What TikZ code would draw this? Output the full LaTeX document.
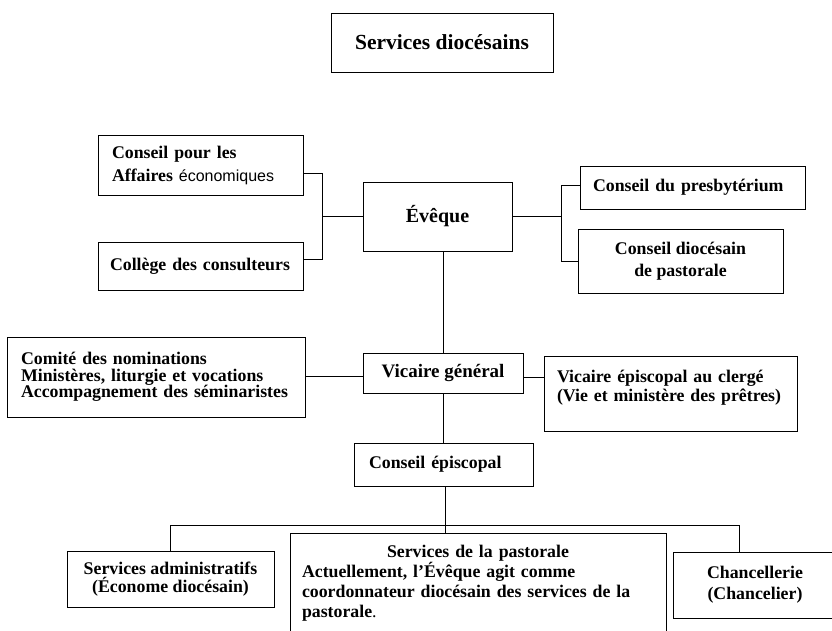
\documentclass[tikz,border=0pt]{standalone}
\usepackage{fontspec}
\setmainfont{Liberation Serif}
\newfontfamily\arialfont{Liberation Sans}
\usetikzlibrary{positioning,calc}

\begin{document}
\begin{tikzpicture}[x=1pt, y=-1pt,
  box/.style={rectangle, draw, line width=0.9pt, inner sep=0pt, font=\bfseries\fontsize{17.8}{19}\selectfont},
  line/.style={line width=0.9pt}]
  \useasboundingbox (0,0) rectangle (832,631);
  % top level
  \node[box, minimum width=222pt, minimum height=59pt, font=\bfseries\fontsize{21.5}{24}\selectfont] (titre) at (442,42.5) {Services diocésains};
  \node[box, minimum width=149pt, minimum height=69pt, font=\bfseries\fontsize{20}{22}\selectfont] (eveque) at (437.5,216.5) {Évêque};
  \node[box, minimum width=205pt, minimum height=60pt, inner xsep=14pt, text width=177pt, align=left, font=\bfseries\fontsize{17.8}{23}\selectfont] (affaires) at (200.5,165) {Conseil pour les\\ Affaires {\arialfont\mdseries\fontsize{16}{23}\selectfont économiques}};
  \node[box, minimum width=205pt, minimum height=48pt, inner xsep=12pt, text width=181pt, align=left] (college) at (200.5,266) {Collège des consulteurs};
  \node[box, minimum width=225pt, minimum height=43pt, inner xsep=13pt, text width=199pt, align=left] (presby) at (692.5,187.5) {Conseil du presbytérium};
  \node[box, minimum width=205pt, minimum height=64pt, align=center, font=\bfseries\fontsize{17.8}{22}\selectfont] (pastcons) at (680.5,261) {Conseil diocésain\\ de pastorale};
  % vicaires
  \node[box, minimum width=160pt, minimum height=40pt, font=\bfseries\fontsize{19}{21}\selectfont] (vicgen) at (443,373) {Vicaire général};
  \node[box, minimum width=298pt, minimum height=80pt, inner xsep=14pt, text width=270pt, align=left, font=\bfseries\fontsize{17.8}{16.5}\selectfont] (comite) at (156,377) {Comité des nominations\\ Ministères, liturgie et vocations\\ Accompagnement des séminaristes};
  \node[box, minimum width=253pt, minimum height=75pt, inner xsep=13pt, text width=227pt, align=left] (vicep) at (670.5,393.5) {\mbox{Vicaire épiscopal au clergé}\\ \mbox{(Vie et ministère des prêtres)}\rule[-15pt]{0pt}{0pt}};
  \node[box, minimum width=179pt, minimum height=43pt, inner xsep=15pt, text width=149pt, align=left] (episc) at (443.5,464.5) {Conseil épiscopal};
  % services
  \node[box, minimum width=207pt, minimum height=56pt, align=center, font=\bfseries\fontsize{17.8}{18}\selectfont] (admin) at (170.5,579) {Services administratifs\\ (Économe diocésain)};
  \node[box, anchor=north, inner xsep=12pt, inner ysep=12pt, text width=352pt, align=left, font=\bfseries\fontsize{17.8}{20}\selectfont] (pastserv) at (478,533) {\makebox[\hsize]{Services de la pastorale}\\ Actuellement, l’Évêque agit comme\\ coordonnateur diocésain des services de la\\ pastorale{\mdseries.}\rule[-30pt]{0pt}{0pt}};
  \node[box, minimum width=164pt, minimum height=66pt, align=center, font=\bfseries\fontsize{17.8}{21}\selectfont] (chanc) at (755,585) {Chancellerie\\ (Chancelier)};
  % connectors
  \coordinate (lj) at (322.5,216.5);
  \coordinate (rj) at (561.5,216.5);
  \coordinate (bus) at (445.5,525.5);
  \draw[line] ([yshift=-8pt]affaires.east) -| (lj) |- ([yshift=7pt]college.east);
  \draw[line] (lj) -- (eveque.west);
  \draw[line] (eveque.east) -- (rj);
  \draw[line] ([yshift=2.5pt]presby.west) -| (rj) |- (pastcons.west);
  \draw[line] (vicgen.north) -- (vicgen.north |- eveque.south);
  \draw[line] ([yshift=1pt]comite.east) -- ([yshift=1pt]comite.east -| vicgen.west);
  \draw[line] ([yshift=-4pt]vicgen.east) -- ([yshift=-4pt]vicgen.east -| vicep.west);
  \draw[line] (vicgen.south) -- (vicgen.south |- episc.north);
  \draw[line] ([xshift=1.5pt]episc.south) -- ([xshift=1.5pt]episc.south |- pastserv.north);
  \draw[line] (admin.north) |- (bus) -| ([xshift=-16pt]chanc.north);
\end{tikzpicture}
\end{document}
